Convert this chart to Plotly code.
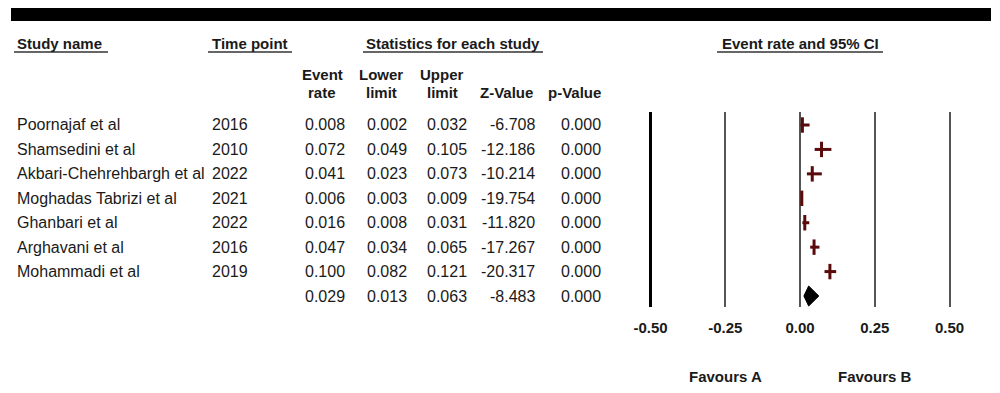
import plotly.graph_objects as go

# ---------------- data ----------------
studies = ["Poornajaf et al", "Shamsedini et al", "Akbari-Chehrehbargh et al",
           "Moghadas Tabrizi et al", "Ghanbari et al", "Arghavani et al", "Mohammadi et al"]
years = ["2016", "2010", "2022", "2021", "2022", "2016", "2019"]
event_rate = [0.008, 0.072, 0.041, 0.006, 0.016, 0.047, 0.100]
lower_limit = [0.002, 0.049, 0.023, 0.003, 0.008, 0.034, 0.082]
upper_limit = [0.032, 0.105, 0.073, 0.009, 0.031, 0.065, 0.121]
z_value = [-6.708, -12.186, -10.214, -19.754, -11.820, -17.267, -20.317]
p_value = [0.000, 0.000, 0.000, 0.000, 0.000, 0.000, 0.000]

summary_rate = 0.029
summary_lower = 0.013
summary_upper = 0.063
summary_z = -8.483
summary_p = 0.000

tick_values = [-0.50, -0.25, 0.00, 0.25, 0.50]
tick_labels = ["-0.50", "-0.25", "0.00", "0.25", "0.50"]
favours_labels = ["Favours A", "Favours B"]
favours_pos = [-0.25, 0.25]

# ---------------- styling ----------------
OX, OY = 8, 8            # page body margin offset
W, H = 1000 - OX, 393 - OY
FONT = "Liberation Sans, Arial, sans-serif"
TXT = "#1a1a1a"
RED = "#5a0a0a"
BODY = 16
HEAD = 15


def px(x):
    return (x - OX) / W


def py(y):
    return 1 - (y - OY) / H


rows = list(range(len(studies)))
summary_row = len(studies)

fig = go.Figure()

# study estimates with confidence intervals
fig.add_trace(go.Scatter(
    x=event_rate, y=rows, mode="markers",
    marker=dict(symbol="line-ns", size=11, line=dict(width=3, color=RED), color=RED),
    error_x=dict(type="data", symmetric=False,
                 array=[u - e for u, e in zip(upper_limit, event_rate)],
                 arrayminus=[e - l for e, l in zip(event_rate, lower_limit)],
                 thickness=3, width=0, color=RED),
    cliponaxis=False, hoverinfo="skip"))

# summary diamond
dh = 0.41
fig.add_trace(go.Scatter(
    x=[summary_lower, summary_rate, summary_upper, summary_rate, summary_lower],
    y=[summary_row, summary_row - dh, summary_row, summary_row + dh, summary_row],
    mode="lines", fill="toself", fillcolor="black",
    line=dict(color="black", width=1), cliponaxis=False, hoverinfo="skip"))

annotations = []


def add_text(text, x, y, xanchor="left", bold=False, size=None, xref="paper", yref="paper"):
    annotations.append(dict(
        text=text, x=x, y=y, xref=xref, yref=yref, xanchor=xanchor, yanchor="middle",
        showarrow=False,
        font=dict(family=FONT, size=size or (HEAD if bold else BODY), color=TXT,
                  weight="bold" if bold else "normal")))


# headers
add_text("Study name", px(15), py(43), bold=True)
add_text("Time point", px(210), py(43), bold=True)
add_text("Statistics for each study", px(453), py(43), xanchor="center", bold=True)
add_text("Event rate and 95% CI", 0, py(43), xanchor="center", bold=True, xref="x")

col_heads = [("Event", "rate", 322), ("Lower", "limit", 381), ("Upper", "limit", 442)]
for top, bot, cx in col_heads:
    add_text(top, px(cx), py(74), xanchor="center", bold=True)
    add_text(bot, px(cx), py(93), xanchor="center", bold=True)
add_text("Z-Value", px(506), py(93), xanchor="center", bold=True)
add_text("p-Value", px(574), py(93), xanchor="center", bold=True)

# body rows
right_edges = [347, 409, 469, 537, 603]
for i in rows:
    add_text(studies[i], px(15), i, yref="y")
    add_text(years[i], px(210), i, yref="y")
    vals = [event_rate[i], lower_limit[i], upper_limit[i], z_value[i], p_value[i]]
    for v, r in zip(vals, right_edges):
        add_text(f"{v:.3f}", px(r), i, xanchor="right", yref="y")

svals = [summary_rate, summary_lower, summary_upper, summary_z, summary_p]
for v, r in zip(svals, right_edges):
    add_text(f"{v:.3f}", px(r), summary_row, xanchor="right", yref="y")

# favours labels
for lab, pos in zip(favours_labels, favours_pos):
    add_text(lab, pos, py(376), xanchor="center", bold=True, xref="x")

UL = dict(color="#333333", width=1.5)
shapes = [
    # black top bar
    dict(type="rect", xref="paper", yref="paper", x0=px(11), x1=px(991), y0=py(21), y1=py(7),
         fillcolor="black", line=dict(width=0), layer="above"),
    # header underlines
    dict(type="line", xref="paper", yref="paper", x0=px(14), x1=px(108), y0=py(52), y1=py(52), line=UL),
    dict(type="line", xref="paper", yref="paper", x0=px(208), x1=px(292), y0=py(52), y1=py(52), line=UL),
    dict(type="line", xref="paper", yref="paper", x0=px(363), x1=px(543), y0=py(52), y1=py(52), line=UL),
    dict(type="line", xref="paper", yref="paper", x0=px(717), x1=px(883), y0=py(52), y1=py(52), line=UL),
    # left boundary line (-0.50) drawn black
    dict(type="line", xref="x", yref="paper", x0=tick_values[0], x1=tick_values[0],
         y0=py(307), y1=py(112), line=dict(color="black", width=3), layer="above"),
]

x_left = (OX - 800) / 299
x_right = (1000 - 800) / 299

fig.update_layout(
    width=W, height=H,
    margin=dict(l=0, r=0, t=0, b=0),
    paper_bgcolor="white", plot_bgcolor="white",
    showlegend=False,
    annotations=annotations,
    shapes=shapes,
    xaxis=dict(range=[x_left, x_right], tickvals=tick_values, ticktext=tick_labels,
               showgrid=True, gridcolor="#555555", gridwidth=2, zeroline=False,
               showline=False, ticks="", ticklabelstandoff=10,
               tickfont=dict(family=FONT, size=HEAD, color=TXT, weight="bold"),
               fixedrange=True),
    yaxis=dict(domain=[py(307), py(112)], range=[7.45, -0.532],
               showgrid=False, zeroline=False, showticklabels=False, showline=False,
               ticks="", fixedrange=True),
)

fig.write_html("out.html")
